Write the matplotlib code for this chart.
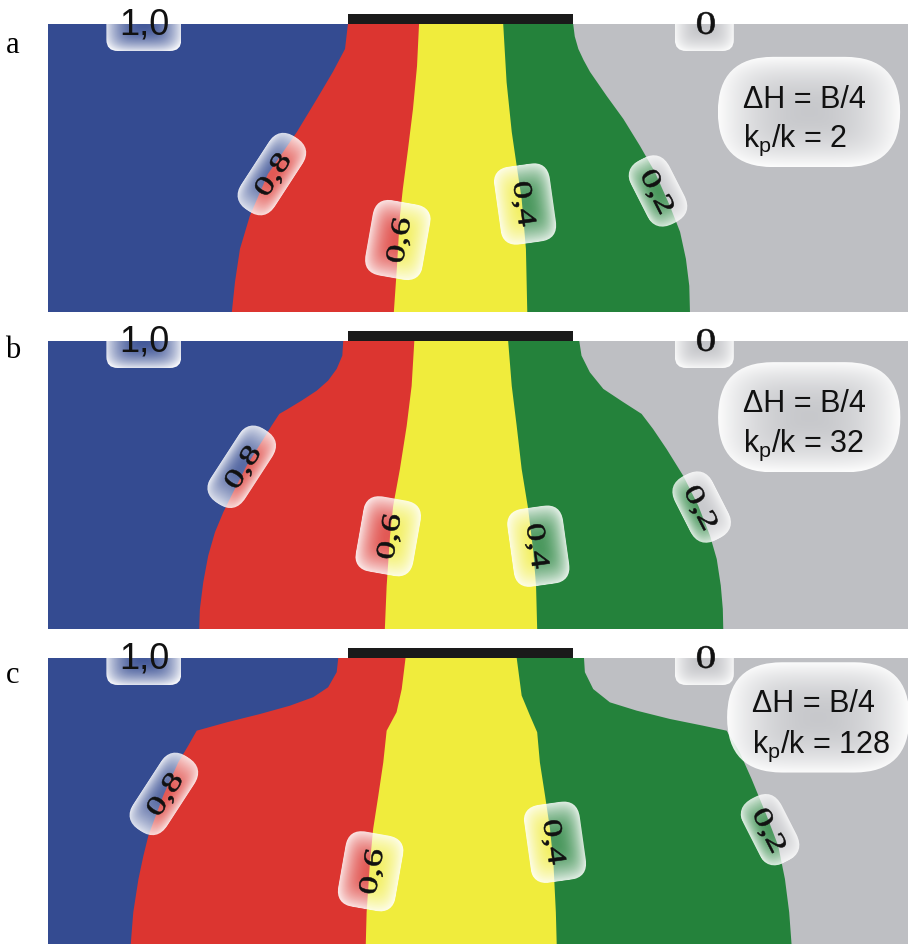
import matplotlib.pyplot as plt
import numpy as np
from matplotlib.font_manager import FontProperties
from matplotlib.patches import FancyBboxPatch, PathPatch, Polygon, Rectangle
from matplotlib.textpath import TextPath
from matplotlib.transforms import Affine2D

# x in footing widths B from the footing centre, z = depth below the base in B
X_MIN, X_MAX = -1.833, 1.989
DEPTH = 1.28
ABOVE = 0.12
FOOT_T = 0.044

LEVEL_TEXT = ["0,8", "0,6", "0,4", "0,2"]
BAND_COLORS = ["#344b91", "#dc3530", "#f0ec3c", "#24823b", "#bebfc3"]
PANEL_LETTERS = ["a", "b", "c"]
KP_RATIO = [2, 32, 128]

# panel a, kp/k = 2 : isoline positions (z, x)
a_z08 = [0, 0.111, 0.213, 0.333, 0.480, 0.667, 0.853, 1.0, 1.147, 1.28]
a_x08 = [-0.500, -0.513, -0.567, -0.638, -0.727, -0.856, -0.936, -0.980, -1.002, -1.016]
a_z06 = [0, 0.187, 0.378, 0.556, 0.733, 0.853, 1.076, 1.28]
a_x06 = [-0.184, -0.193, -0.211, -0.233, -0.256, -0.269, -0.282, -0.296]
a_z04 = [0, 0.258, 0.480, 0.631, 0.778, 1.0, 1.28]
a_x04 = [0.190, 0.205, 0.228, 0.250, 0.272, 0.291, 0.297]
a_z02 = [0, 0.055, 0.111, 0.160, 0.213, 0.320, 0.422, 0.542, 0.658, 0.809, 0.924,
         1.044, 1.164, 1.28]
a_x02 = [0.501, 0.508, 0.524, 0.547, 0.576, 0.650, 0.724, 0.798, 0.864, 0.931, 0.976,
         1.002, 1.017, 1.020]

# panel b, kp/k = 32
b_z08 = [0, 0.065, 0.124, 0.176, 0.221, 0.265, 0.305, 0.324, 0.376, 0.436, 0.554,
         0.672, 0.761, 0.850, 0.954, 1.072, 1.191, 1.28]
b_x08 = [-0.521, -0.525, -0.550, -0.588, -0.639, -0.706, -0.772, -0.805, -0.839, -0.876,
         -0.950, -1.010, -1.054, -1.091, -1.121, -1.143, -1.158, -1.161]
b_z06 = [0, 0.2, 0.378, 0.569, 0.733, 0.867, 1.089, 1.28]
b_x06 = [-0.205, -0.217, -0.239, -0.269, -0.299, -0.313, -0.328, -0.336]
b_z04 = [0, 0.2, 0.378, 0.569, 0.747, 0.938, 1.089, 1.28]
b_x04 = [0.212, 0.228, 0.250, 0.272, 0.301, 0.324, 0.336, 0.341]
b_z02 = [0, 0.065, 0.139, 0.213, 0.272, 0.324, 0.391, 0.48, 0.599, 0.732, 0.865,
         0.969, 1.087, 1.191, 1.28]
b_x02 = [0.528, 0.538, 0.575, 0.635, 0.724, 0.805, 0.856, 0.916, 0.990, 1.057, 1.109,
         1.139, 1.157, 1.166, 1.168]

# panel c, kp/k = 128
c_z08 = [0, 0.063, 0.130, 0.174, 0.212, 0.249, 0.286, 0.323, 0.39, 0.464, 0.612,
         0.790, 0.879, 0.982, 1.130, 1.28]
c_x08 = [-0.543, -0.550, -0.588, -0.654, -0.758, -0.891, -1.039, -1.172, -1.21, -1.254,
         -1.321, -1.387, -1.409, -1.431, -1.454, -1.466]
c_z06 = [0, 0.138, 0.241, 0.323, 0.464, 0.612, 0.760, 0.908, 1.130, 1.28]
c_x06 = [-0.244, -0.261, -0.284, -0.328, -0.343, -0.365, -0.388, -0.402, -0.417, -0.421]
c_z04 = [0, 0.167, 0.256, 0.330, 0.464, 0.612, 0.760, 0.908, 1.130, 1.28]
c_x04 = [0.250, 0.272, 0.309, 0.341, 0.353, 0.376, 0.398, 0.413, 0.424, 0.428]
c_z02 = [0, 0.063, 0.138, 0.197, 0.234, 0.271, 0.301, 0.323, 0.419, 0.538, 0.701,
         0.834, 0.982, 1.130, 1.28]
c_x02 = [0.549, 0.553, 0.590, 0.664, 0.783, 0.931, 1.079, 1.183, 1.241, 1.294, 1.361,
         1.412, 1.442, 1.461, 1.472]

# label centres (x, z) for 0,8 / 0,6 / 0,4 / 0,2
a_lab = [(-0.838, 0.667), (-0.278, 0.960), (0.287, 0.800), (0.878, 0.742)]
b_lab = [(-0.972, 0.559), (-0.321, 0.868), (0.346, 0.912), (1.072, 0.738)]
c_lab = [(-1.318, 0.604), (-0.399, 0.948), (0.420, 0.819), (1.376, 0.763)]
LAB_ANGLE = [57, 80, -82, -63]

# info bubble: centre (x, z), text left edge, baselines of the two lines
info_centre = [(1.549, 0.391), (1.550, 0.339), (1.590, 0.264)]
info_left = [1.256, 1.256, 1.294]
info_base = [(0.370, 0.541), (0.310, 0.487), (0.234, 0.419)]

PANEL_TOP_PX = [25, 342, 659]
PX_PER_B = 225
W_PX, H_PX = 913, 945

SERIF = FontProperties(family="Liberation Serif")


def glow_box(ax, cx, cy, length, width, angle, radius, a_mid, a_edge):
    tr = Affine2D().rotate_deg_around(cx, cy, angle) + ax.transData
    box = FancyBboxPatch((cx - length / 2, cy - width / 2), length, width,
                         boxstyle=f"round,pad=0,rounding_size={radius}",
                         fc="none", ec="none", transform=tr)
    ax.add_patch(box)
    u = np.linspace(-1, 1, 120)
    uu, vv = np.meshgrid(u, u)
    s = (np.abs(uu) ** 4 + np.abs(vv) ** 4) ** 0.25
    rgba = np.ones((120, 120, 4))
    rgba[..., 3] = np.clip(a_mid + (a_edge - a_mid) * s ** 2, 0, 1)
    im = ax.imshow(rgba, extent=(cx - length / 2, cx + length / 2,
                                 cy - width / 2, cy + width / 2),
                   aspect="auto", interpolation="bilinear", zorder=3)
    im.set_transform(tr)
    im.set_clip_path(box)


def digits(ax, s, cx, cy, angle, height, length):
    tp = TextPath((0, 0), s, size=1, prop=SERIF)
    ext = tp.get_extents()
    zero = TextPath((0, 0), "0", size=1, prop=SERIF).get_extents()
    tr = (Affine2D()
          .translate(-(ext.x0 + ext.x1) / 2, -(zero.y0 + zero.y1) / 2)
          .scale(length / ext.width, height / zero.height)
          .rotate_deg(angle)
          .translate(cx, cy))
    ax.add_patch(PathPatch(tr.transform_path(tp), fc="#111111", ec="#111111",
                           lw=0.4, zorder=5))


def draw_panel(ax, lines, labels, centre, left, base, ratio):
    ax.add_patch(Rectangle((X_MIN, -DEPTH), X_MAX - X_MIN, DEPTH,
                           fc=BAND_COLORS[-1], ec="none", zorder=1))
    # paint from the outer band inwards, each fill reaching the left edge
    for (z, x), color in zip(reversed(lines), reversed(BAND_COLORS[:-1])):
        pts = [(X_MIN, 0)] + list(zip(x, -np.asarray(z))) + [(X_MIN, -DEPTH)]
        ax.add_patch(Polygon(pts, closed=True, fc=color, ec="none", zorder=2))

    # footing
    ax.add_patch(Rectangle((-0.5, 0), 1.0, FOOT_T, fc="#1a1a1a", ec="none", zorder=4))

    # 1,0 and 0 at the surface
    glow_box(ax, -1.407, 0, 0.333, 0.24, 0, 0.05, 0.08, 0.85)
    ax.text(-1.405, -0.044, "1,0", family="Liberation Sans", fontsize=26,
            ha="center", va="baseline", color="#111111", zorder=5)
    glow_box(ax, 1.084, 0, 0.262, 0.24, 0, 0.05, 0.08, 0.85)
    digits(ax, "0", 1.091, 0.004, 0, 0.098, 0.078)

    sizes = [(0.39, 0.18, 0.088), (0.34, 0.26, 0.08),
             (0.35, 0.25, 0.08), (0.32, 0.19, 0.09)]
    for txt, (lx, lz), ang, (bl, bw, br) in zip(LEVEL_TEXT, labels, LAB_ANGLE, sizes):
        glow_box(ax, lx, -lz, bl, bw, ang, br, 0.18, 0.85)
        digits(ax, txt, lx, -lz, ang, 0.08, 0.195)

    cx, cz = centre
    glow_box(ax, cx, -cz, 0.81, 0.49, 0, 0.245, 0.15, 0.95)
    ax.text(left, -base[0], "ΔH = B/4", family="Liberation Sans", fontsize=22,
            ha="left", va="baseline", color="#111111", zorder=5)
    ax.text(left, -base[1], r"k$_\mathregular{p}$/k = " + str(ratio),
            family="Liberation Sans", fontsize=22,
            ha="left", va="baseline", color="#111111", zorder=5)

    ax.set_xlim(X_MIN, X_MAX)
    ax.set_ylim(-DEPTH, ABOVE)
    ax.set_facecolor("none")
    ax.axis("off")


panels = [
    ([(a_z08, a_x08), (a_z06, a_x06), (a_z04, a_x04), (a_z02, a_x02)], a_lab),
    ([(b_z08, b_x08), (b_z06, b_x06), (b_z04, b_x04), (b_z02, b_x02)], b_lab),
    ([(c_z08, c_x08), (c_z06, c_x06), (c_z04, c_x04), (c_z02, c_x02)], c_lab),
]

fig = plt.figure(figsize=(W_PX / 100, H_PX / 100), dpi=100)
letter_base_px = [53, 358, 683]

for i, (lines, labels) in enumerate(panels):
    top = PANEL_TOP_PX[i]
    bottom = top + DEPTH * PX_PER_B
    height = (DEPTH + ABOVE) * PX_PER_B
    ax = fig.add_axes([48 / W_PX, 1 - bottom / H_PX, 860 / W_PX, height / H_PX])
    draw_panel(ax, lines, labels, info_centre[i], info_left[i], info_base[i], KP_RATIO[i])
    fig.text(13 / W_PX, 1 - letter_base_px[i] / H_PX, PANEL_LETTERS[i],
             family="Liberation Serif", fontsize=22, ha="center", va="baseline")

fig.savefig("out.png", dpi=100)
